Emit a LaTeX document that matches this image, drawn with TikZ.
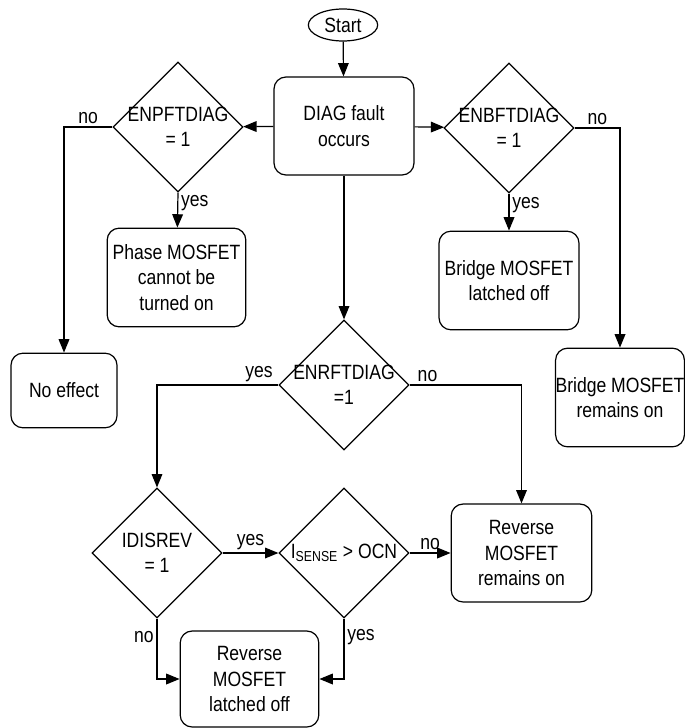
\documentclass[tikz,border=0pt]{standalone}
\usepackage{fontspec}
\setmainfont{Liberation Sans}[FakeStretch=0.85]
\usepackage{tikz}
\usetikzlibrary{arrows.meta,positioning,shapes.geometric}

\begin{document}
\begin{tikzpicture}[
    x=0.75pt, y=-0.75pt,
    line width=0.9pt,
    every node/.style={font=\fontsize{15.5}{19}\selectfont, align=center},
    box/.style={draw, rounded corners=9pt, inner sep=0pt},
    decision/.style={draw, diamond, inner sep=0pt,
      minimum width=97.5pt, minimum height=97.5pt},
    flow/.style={-{Triangle[length=10pt,width=8pt]}},
    lbl/.style={inner sep=2pt}
  ]
    \useasboundingbox (0,0) rectangle (685,728);

    % top row
    \node[draw, ellipse, minimum width=52pt, minimum height=24pt, inner sep=0pt]
      (start) at (343,25) {Start};
    \node[box, minimum width=105pt, minimum height=73.5pt] (diag) at (344,126)
      {DIAG fault\\occurs};
    \node[decision] (pft) at (178,127) {};
    \node at (pft) {ENPFTDIAG\\= 1};
    \node[decision] (bft) at (509,128) {};
    \node at (bft) {ENBFTDIAG\\= 1};

    % results of the side checks
    \node[box, minimum width=104pt, minimum height=74pt] (phase) at (176.5,277.5)
      {Phase MOSFET\\cannot be\\turned on};
    \node[box, minimum width=105pt, minimum height=74pt] (blatch) at (509,280.5)
      {Bridge MOSFET\\latched off};
    \node[box, minimum width=79.5pt, minimum height=56pt] (noeff) at (64,390.5)
      {No effect};
    \node[box, minimum width=96pt, minimum height=74pt] (bron) at (620,397.5)
      {Bridge MOSFET\\remains on};

    % reverse MOSFET branch
    \node[decision] (rft) at (344,385) {};
    \node at (rft) {ENRFTDIAG\\=1};
    \node[decision] (idis) at (157,553) {};
    \node at (idis) {IDISREV\\= 1};
    \node[decision] (isense) at (344,553) {};
    \node at (isense) {I\textsubscript{SENSE} > OCN};
    \node[box, minimum width=105.5pt, minimum height=73.5pt] (revon) at (521.5,553)
      {Reverse\\MOSFET\\remains on};
    \node[box, minimum width=104pt, minimum height=72pt] (revoff) at (249.5,679)
      {Reverse\\MOSFET\\latched off};

    % connectors
    \draw[flow] (start) -- (diag);
    \draw[flow] (diag) -- (pft);
    \draw[flow] (diag) -- (bft);
    \draw[flow] (diag) -- (rft);
    \draw[flow] (pft.south) -- node[pos=0.3, right, lbl] {yes} (phase);
    \draw[flow] (bft.south) -- node[pos=0.3, right, lbl] {yes} (blatch);
    \draw[flow] (pft.west) -| node[pos=0.25, above, lbl] {no} (noeff.north);
    \draw[flow] (bft.east) -| node[pos=0.25, above, lbl] {no} (bron.north);
    \draw[flow] (rft.west) -| node[pos=0.08, above, lbl] {yes} (idis.north);
    \draw[flow] (rft.east) -| node[pos=0.08, above, lbl] {no} (revon.north);
    \draw[flow] (idis.east) -- node[above, lbl] {yes} (isense.west);
    \draw[flow] (isense.east) -- node[above, lbl] {no} (revon.west);
    \draw[flow] (idis.south) |- node[pos=0.15, left, lbl] {no} (revoff.west);
    \draw[flow] (isense.south) |- node[pos=0.15, right, lbl] {yes} (revoff.east);
  \end{tikzpicture}
\end{document}
